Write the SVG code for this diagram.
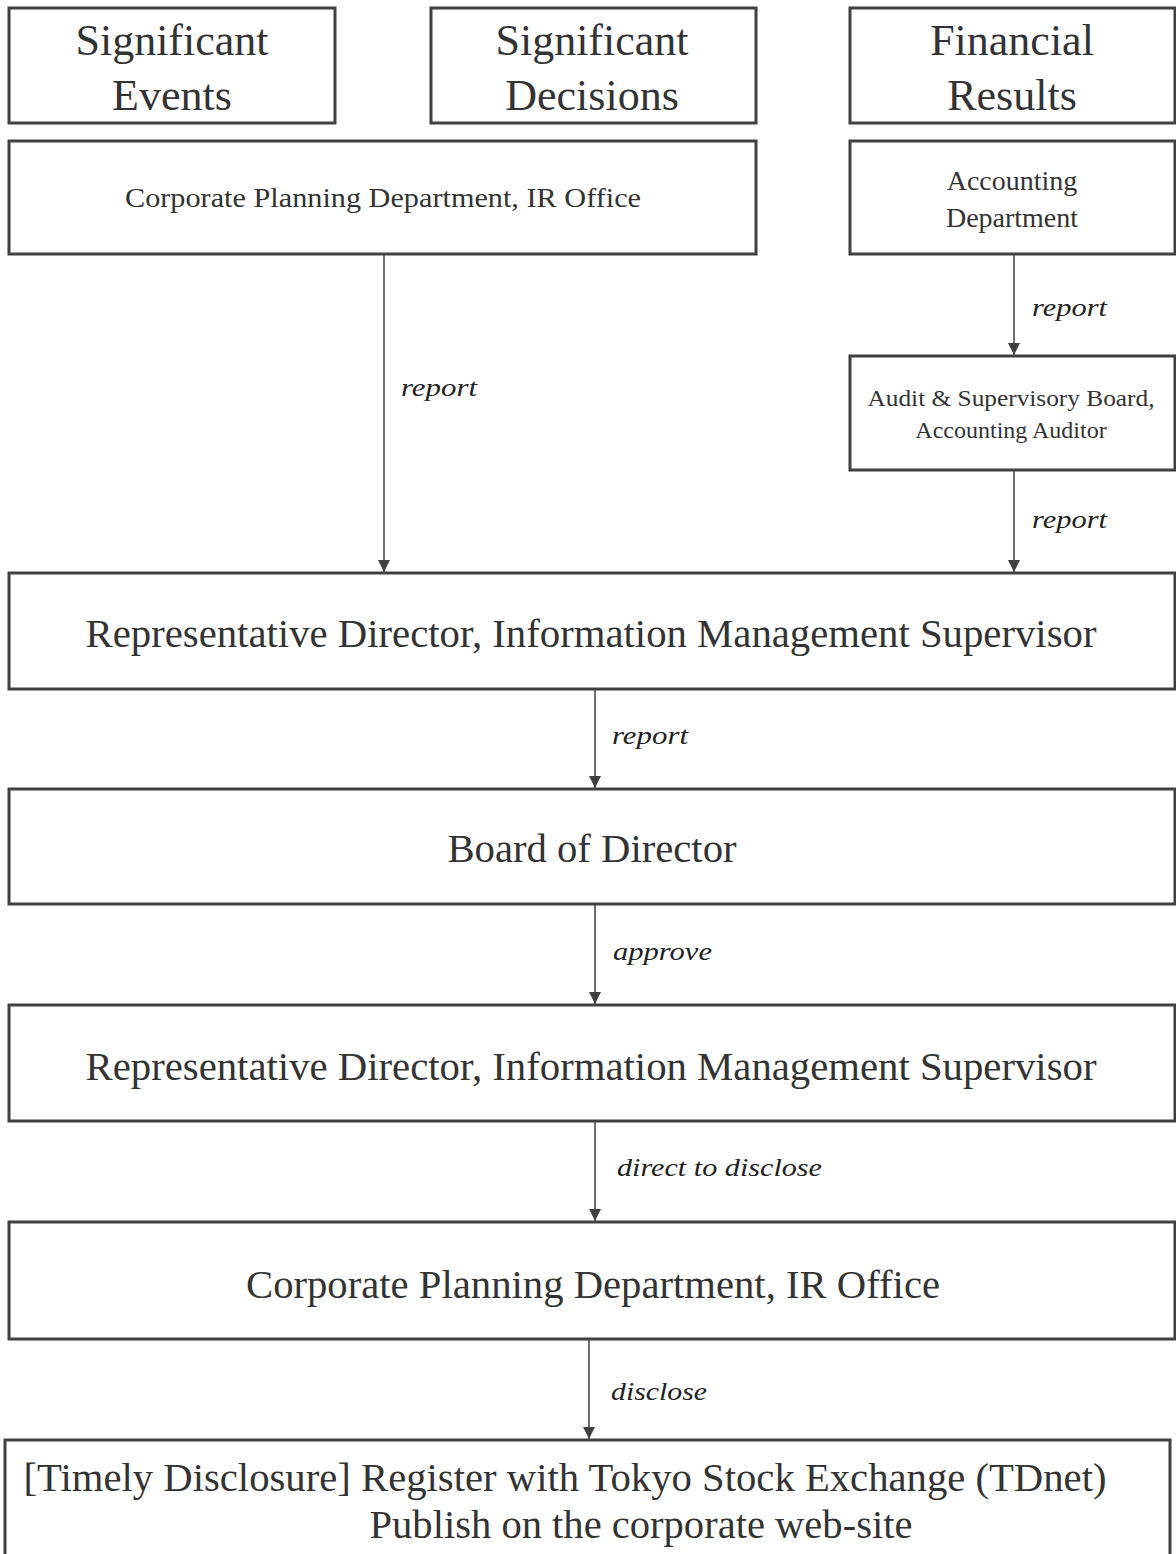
<svg xmlns="http://www.w3.org/2000/svg" width="1176" height="1554" viewBox="0 0 1176 1554">
<defs>
<style>
.box{fill:#fff;stroke:#404040;stroke-width:3}
.t{font-family:"Liberation Serif","Times New Roman",serif;fill:#333;text-anchor:middle}
.big{font-size:44px}
.mid{font-size:40px}
.sm{font-size:28px}
.xs{font-size:24px}
.lbl{font-family:"Liberation Serif","Times New Roman",serif;font-style:italic;font-size:25px;fill:#222}
.c{stroke:#404040;stroke-width:1.5;fill:none;marker-end:url(#ah)}
</style>
<marker id="ah" viewBox="0 0 12 12" refX="12" refY="6" markerWidth="12" markerHeight="12" markerUnits="userSpaceOnUse" orient="auto">
<path d="M0,0 L12,6 L0,12 z" fill="#404040"/>
</marker>
</defs>
<rect width="1176" height="1554" fill="#fff"/>
<g id="connectors">
<line class="c" x1="384" y1="255" x2="384" y2="572"/>
<line class="c" x1="1014" y1="255" x2="1014" y2="355"/>
<line class="c" x1="1014" y1="471" x2="1014" y2="572"/>
<line class="c" x1="595" y1="690" x2="595" y2="788"/>
<line class="c" x1="595" y1="905" x2="595" y2="1004"/>
<line class="c" x1="595" y1="1122" x2="595" y2="1221"/>
<line class="c" x1="589" y1="1340" x2="589" y2="1439"/>
<text class="lbl" x="401" y="396" textLength="76" lengthAdjust="spacingAndGlyphs">report</text>
<text class="lbl" x="1032" y="316" textLength="75" lengthAdjust="spacingAndGlyphs">report</text>
<text class="lbl" x="1032" y="528" textLength="75" lengthAdjust="spacingAndGlyphs">report</text>
<text class="lbl" x="612" y="744" textLength="76" lengthAdjust="spacingAndGlyphs">report</text>
<text class="lbl" x="613" y="960" textLength="99" lengthAdjust="spacingAndGlyphs">approve</text>
<text class="lbl" x="617" y="1176" textLength="205" lengthAdjust="spacingAndGlyphs">direct to disclose</text>
<text class="lbl" x="611" y="1400" textLength="96" lengthAdjust="spacingAndGlyphs">disclose</text>
</g>
<g id="significant-events">
<rect class="box" x="9" y="8" width="326" height="115"/>
<text class="t big" x="172" y="55">Significant</text>
<text class="t big" x="172" y="110">Events</text>
</g>
<g id="significant-decisions">
<rect class="box" x="431" y="8" width="325" height="115"/>
<text class="t big" x="592" y="55">Significant</text>
<text class="t big" x="592" y="110">Decisions</text>
</g>
<g id="financial-results">
<rect class="box" x="850" y="8" width="325" height="115"/>
<text class="t big" x="1012" y="55">Financial</text>
<text class="t big" x="1012" y="110">Results</text>
</g>
<g id="corporate-planning-1">
<rect class="box" x="9" y="141" width="747" height="113"/>
<text class="t sm" x="383" y="207" textLength="516" lengthAdjust="spacingAndGlyphs">Corporate Planning  Department,  IR Office</text>
</g>
<g id="accounting-department">
<rect class="box" x="850" y="141" width="325" height="113"/>
<text class="t sm" x="1012" y="190">Accounting</text>
<text class="t sm" x="1012" y="227">Department</text>
</g>
<g id="audit-board">
<rect class="box" x="850" y="356" width="325" height="114"/>
<text class="t xs" x="1011" y="406" textLength="287" lengthAdjust="spacingAndGlyphs">Audit &amp; Supervisory Board,</text>
<text class="t xs" x="1011" y="438">Accounting  Auditor</text>
</g>
<g id="representative-director-1">
<rect class="box" x="9" y="573" width="1166" height="116"/>
<text class="t mid" x="591" y="647" textLength="1011" lengthAdjust="spacingAndGlyphs">Representative  Director,  Information  Management  Supervisor</text>
</g>
<g id="board-of-director">
<rect class="box" x="9" y="789" width="1166" height="115"/>
<text class="t mid" x="592" y="862" textLength="289" lengthAdjust="spacingAndGlyphs">Board of Director</text>
</g>
<g id="representative-director-2">
<rect class="box" x="9" y="1005" width="1166" height="116"/>
<text class="t mid" x="591" y="1080" textLength="1011" lengthAdjust="spacingAndGlyphs">Representative  Director,  Information  Management  Supervisor</text>
</g>
<g id="corporate-planning-2">
<rect class="box" x="9" y="1222" width="1166" height="117"/>
<text class="t mid" x="593" y="1298" textLength="694" lengthAdjust="spacingAndGlyphs">Corporate Planning  Department,  IR Office</text>
</g>
<g id="timely-disclosure">
<rect class="box" x="5" y="1440" width="1165" height="120"/>
<text class="t mid" x="565" y="1491" textLength="1083" lengthAdjust="spacingAndGlyphs">[Timely  Disclosure] Register with Tokyo  Stock  Exchange  (TDnet)</text>
<text class="t mid" x="641" y="1538" textLength="543" lengthAdjust="spacingAndGlyphs">Publish on the corporate web-site</text>
</g>
</svg>
